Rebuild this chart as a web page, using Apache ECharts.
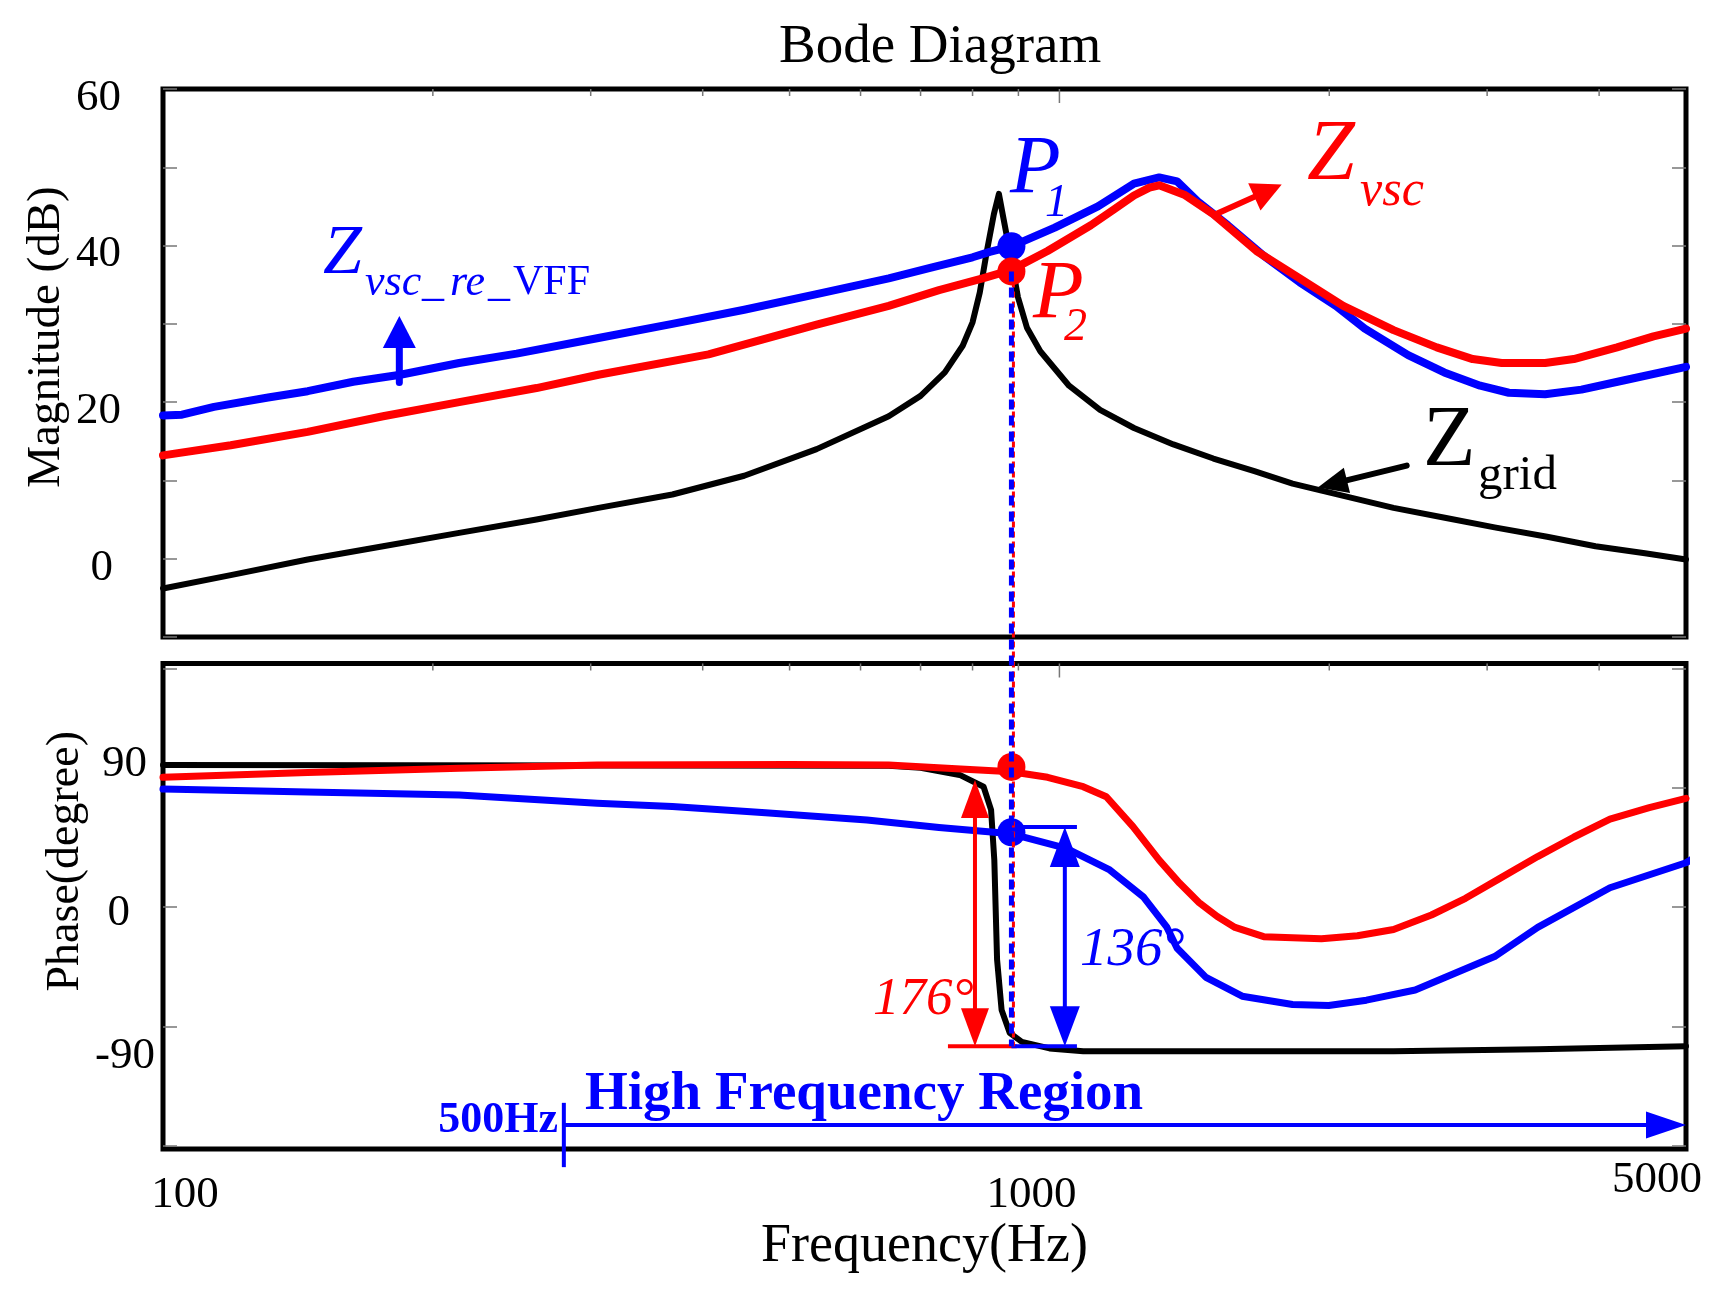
<!DOCTYPE html>
<html><head><meta charset="utf-8">
<script src="https://cdn.jsdelivr.net/npm/echarts@6/dist/echarts.min.js"></script>
<style>html,body{margin:0;padding:0;background:#fff}#c{width:1732px;height:1293px}</style>
</head><body><div id="c"></div>
<script>
// ---- tick values / labels ----
const xTickLabels = [100, 1000, 5000];
const xTickMarks = [200, 300, 400, 500, 600, 700, 800, 900, 1000, 2000, 3000, 4000];
const magTickLabels = [0, 20, 40, 60];
const phaseTickMarks = [-150, -75, 0, 75, 150];
const phaseTickLabels = [-90, 0, 90];

// ---- magnitude (dB) : [frequency Hz, value] ----
const zgridMag = [[100,-3.8],[119,-2.1],[145,-0.1],[176,1.6],[214,3.3],[261,5.0],[306,6.5],[370,8.2],[445,10.6],[536,14.0],[645,18.2],[700,20.8],[745,23.8],[780,27.2],[800,30.2],[815,34.0],[830,39.3],[845,44.0],[856,46.6],[866,43.5],[880,39.3],[899,33.4],[920,29.5],[952,26.5],[1025,22.1],[1110,19.0],[1211,16.7],[1340,14.6],[1485,12.8],[1650,11.2],[1820,9.6],[2080,8.0],[2359,6.5],[2700,5.2],[3058,4.0],[3500,2.8],[3963,1.6],[4500,0.7],[5000,-0.1]];
const zvscReMag = [[100,18.3],[105,18.4],[114,19.4],[131,20.6],[145,21.4],[163,22.6],[184,23.5],[214,25.0],[248,26.2],[306,28.2],[370,30.0],[445,31.8],[536,33.8],[645,35.8],[721,37.2],[800,38.5],[836,39.2],[884,39.9],[988,42.3],[1104,45.0],[1211,47.9],[1292,48.7],[1353,48.2],[1431,45.5],[1541,42.6],[1690,38.7],[1854,35.3],[2034,32.3],[2191,29.4],[2449,26.0],[2687,23.8],[2947,22.1],[3172,21.2],[3482,21.0],[3822,21.6],[4269,22.8],[5000,24.5]];
const zvscMag = [[100,13.2],[119,14.5],[145,16.2],[176,18.2],[214,20.0],[261,21.8],[306,23.5],[406,26.1],[536,29.9],[645,32.3],[734,34.3],[821,35.8],[884,36.9],[970,39.3],[1084,42.6],[1150,44.6],[1211,46.4],[1260,47.4],[1292,47.7],[1378,46.5],[1485,44.0],[1659,39.3],[1854,35.8],[2073,32.3],[2359,29.2],[2636,27.0],[2891,25.5],[3114,25.0],[3482,25.0],[3748,25.5],[4188,27.0],[4599,28.4],[5000,29.4]];

// ---- phase (degree) ----
const zgridPhase = [[100,89.3],[645,88.8],[700,87.5],[774,83],[823,75.6],[839,61],[846,29.5],[852,-33],[862,-64.7],[880,-79],[908,-84.7],[975,-88.8],[1063,-90.6],[2359,-90.6],[3416,-89.3],[5000,-87.4]];
const zvscRePhase = [[100,74.1],[145,72.3],[214,70.4],[305,65.2],[370,63.1],[470,59.2],[610,54.7],[734,50],[884,46],[1018,36.9],[1138,23.3],[1240,6.5],[1317,-12.4],[1353,-25.9],[1457,-44.2],[1599,-56],[1820,-61.2],[1997,-61.8],[2200,-58.5],[2494,-52.1],[3058,-31.1],[3416,-12.8],[4113,12.1],[5000,27.8],[5130,31.5]];
const zvscPhase = [[100,81.5],[145,84.6],[214,87.2],[305,89.3],[500,89.6],[645,89.3],[776,86.7],[884,85],[970,81.5],[1063,75.6],[1128,69.3],[1208,50.5],[1292,29.5],[1362,14.9],[1431,2.9],[1500,-6],[1570,-12.8],[1690,-18.6],[1960,-19.9],[2150,-18],[2359,-14.1],[2600,-5],[2838,5.5],[3100,18],[3416,31.7],[3750,44],[4113,55.2],[4550,62.5],[5000,68.3]];

// ---- annotation anchors (data coordinates) ----
const crossFreq = 884;
const p1Mag = 39.9, p2Mag = 36.7, p1Phase = 47, p2Phase = 88;
const dashBottomPhase = -87.4;
const regionStartFreq = 280;

const FONT = '"Liberation Serif", "Times New Roman", serif';
const RED = '#ff0000', BLUE = '#0000ff', BLACK = '#000000', TICK = '#777777';

const chart = echarts.init(document.getElementById('c'), null, {renderer: 'canvas'});

const gridCommon = {show: true, borderWidth: 5, borderColor: BLACK, backgroundColor: 'transparent', containLabel: false, outerBoundsMode: 'none'};
const xBase = {type: 'log', logBase: 10, min: 100, max: 5000, axisLine: {show: false}, axisTick: {show: false}, splitLine: {show: false}, minorTick: {show: false}, minorSplitLine: {show: false}};
const tickStyle = {show: true, inside: true, length: 14, lineStyle: {color: TICK, width: 1.5}};

const option = {
  animation: false,
  backgroundColor: '#fff',
  title: {text: 'Bode Diagram', left: 779, top: 20, padding: 0, textStyle: {fontFamily: FONT, fontSize: 55, fontWeight: 'normal', color: BLACK}},
  grid: [
    Object.assign({left: 163, top: 89, width: 1523, height: 548}, gridCommon),
    Object.assign({left: 163, top: 663.5, width: 1523, height: 485.5}, gridCommon)
  ],
  xAxis: [
    Object.assign({gridIndex: 0, axisLabel: {show: false}}, xBase),
    Object.assign({gridIndex: 1,
      name: 'Frequency(Hz)', nameLocation: 'middle', nameGap: 71, nameMoveOverlap: false,
      nameTextStyle: {fontFamily: FONT, fontSize: 54, color: BLACK},
      axisLabel: {show: true, interval: 0, showMinLabel: true, showMaxLabel: true, margin: 9,
        fontFamily: FONT, fontSize: 45, color: BLACK,
        formatter: function (v) {
          const r = Math.round(v);
          if (r === xTickLabels[0]) return '{a|' + r + '}';
          if (r === xTickLabels[1]) return '{b|' + r + '}';
          if (r === xTickLabels[2]) return '{c|' + r + '}';
          return '';
        },
        rich: {
          a: {fontFamily: FONT, fontSize: 45, lineHeight: 45, color: BLACK, padding: [30, 0, 0, 44]},
          b: {fontFamily: FONT, fontSize: 45, lineHeight: 45, color: BLACK, padding: [30, 56, 0, 0]},
          c: {fontFamily: FONT, fontSize: 45, lineHeight: 45, color: BLACK, padding: [0, 58, 0, 0]}
        }}}, xBase)
  ],
  yAxis: [
    {gridIndex: 0, type: 'value', position: 'left', min: -10, max: 60, interval: 10,
      name: 'Magnitude (dB)', nameLocation: 'middle', nameRotate: 90, nameGap: 93, nameMoveOverlap: false,
      nameTextStyle: {fontFamily: FONT, fontSize: 47, color: BLACK, padding: [0, 0, 0, 52]},
      axisLine: {show: false}, splitLine: {show: false}, axisTick: tickStyle,
      axisLabel: {show: true, margin: 42, fontFamily: FONT, fontSize: 45, color: BLACK,
        formatter: function (v) {
          if (magTickLabels.indexOf(v) < 0) return '';
          return v === 0 ? '{z|0}' : '{n|' + v + '}';
        },
        rich: {
          n: {fontFamily: FONT, fontSize: 45, lineHeight: 45, color: BLACK, padding: [18, 0, 0, 0]},
          z: {fontFamily: FONT, fontSize: 45, lineHeight: 45, color: BLACK, padding: [18, 8, 0, 0]}
        }}},
    {gridIndex: 0, type: 'value', position: 'right', min: -10, max: 60, interval: 10,
      axisLine: {show: false}, splitLine: {show: false}, axisTick: tickStyle, axisLabel: {show: false}},
    {gridIndex: 1, type: 'value', position: 'left', min: -152, max: 153,
      name: 'Phase(degree)', nameLocation: 'middle', nameRotate: 90, nameGap: 74, nameMoveOverlap: false,
      nameTextStyle: {fontFamily: FONT, fontSize: 46, color: BLACK, padding: [0, 0, 0, 90]},
      axisLine: {show: false}, splitLine: {show: false},
      axisTick: Object.assign({customValues: phaseTickMarks}, tickStyle),
      axisLabel: {show: true, customValues: phaseTickLabels, margin: 8, fontFamily: FONT, fontSize: 45, color: BLACK,
        formatter: function (v) {
          if (v === 90) return '{a|90}';
          if (v === 0) return '{b|0}';
          if (v === -90) return '{c|-90}';
          return '';
        },
        rich: {
          a: {fontFamily: FONT, fontSize: 45, lineHeight: 45, color: BLACK, padding: [0, 8, 0, 0]},
          b: {fontFamily: FONT, fontSize: 45, lineHeight: 45, color: BLACK, padding: [12, 25, 0, 0]},
          c: {fontFamily: FONT, fontSize: 45, lineHeight: 45, color: BLACK, padding: [12, 0, 0, 0]}
        }}},
    {gridIndex: 1, type: 'value', position: 'right', min: -152, max: 153,
      axisLine: {show: false}, splitLine: {show: false},
      axisTick: Object.assign({customValues: phaseTickMarks}, tickStyle), axisLabel: {show: false}}
  ],
  series: [
    {name: 'Zgrid', type: 'line', xAxisIndex: 0, yAxisIndex: 0, data: zgridMag, showSymbol: false, symbol: 'none', lineStyle: {color: BLACK, width: 6, join: 'round', cap: 'round'}, z: 2},
    {name: 'Zvsc_re_VFF', type: 'line', xAxisIndex: 0, yAxisIndex: 0, data: zvscReMag, showSymbol: false, symbol: 'none', lineStyle: {color: BLUE, width: 8, join: 'round', cap: 'round'}, z: 3},
    {name: 'Zvsc', type: 'line', xAxisIndex: 0, yAxisIndex: 0, data: zvscMag, showSymbol: false, symbol: 'none', lineStyle: {color: RED, width: 8, join: 'round', cap: 'round'}, z: 4},
    {name: 'Zgrid phase', type: 'line', xAxisIndex: 1, yAxisIndex: 2, data: zgridPhase, showSymbol: false, symbol: 'none', lineStyle: {color: BLACK, width: 6, join: 'round', cap: 'round'}, z: 2},
    {name: 'Zvsc_re_VFF phase', type: 'line', xAxisIndex: 1, yAxisIndex: 2, data: zvscRePhase, clip: false, showSymbol: false, symbol: 'none', lineStyle: {color: BLUE, width: 7, join: 'round', cap: 'round'}, z: 3},
    {name: 'Zvsc phase', type: 'line', xAxisIndex: 1, yAxisIndex: 2, data: zvscPhase, showSymbol: false, symbol: 'none', lineStyle: {color: RED, width: 7, join: 'round', cap: 'round'}, z: 4}
  ]
};
chart.setOption(option);

// ---------- annotations ----------
function px(g, pt) { return chart.convertToPixel({xAxisIndex: g, yAxisIndex: g * 2}, pt); }

function arrow(p0, p1, color, lw, hl, hw, both) {
  const dx = p1[0] - p0[0], dy = p1[1] - p0[1], L = Math.hypot(dx, dy);
  const ux = dx / L, uy = dy / L, nx = -uy, ny = ux;
  const s = both ? [p0[0] + ux * hl * 0.7, p0[1] + uy * hl * 0.7] : p0;
  const e = [p1[0] - ux * hl * 0.7, p1[1] - uy * hl * 0.7];
  const els = [{type: 'line', silent: true, z: 50, shape: {x1: s[0], y1: s[1], x2: e[0], y2: e[1]}, style: {stroke: color, lineWidth: lw, lineCap: both ? 'butt' : 'round'}}];
  function head(tip, vx, vy) {
    return {type: 'polygon', silent: true, z: 51, shape: {points: [
      [tip[0], tip[1]],
      [tip[0] - vx * hl + nx * hw / 2, tip[1] - vy * hl + ny * hw / 2],
      [tip[0] - vx * hl - nx * hw / 2, tip[1] - vy * hl - ny * hw / 2]]}, style: {fill: color}};
  }
  els.push(head(p1, ux, uy));
  if (both) els.push(head(p0, -ux, -uy));
  return els;
}
function seg(p0, p1, color, lw, dash, z) {
  return {type: 'line', silent: true, z: z || 50, shape: {x1: p0[0], y1: p0[1], x2: p1[0], y2: p1[1]}, style: {stroke: color, lineWidth: lw, lineDash: dash || null}};
}
function dot(p, color, r) {
  return {type: 'circle', silent: true, z: 60, shape: {cx: p[0], cy: p[1], r: r}, style: {fill: color}};
}
function txt(s, x, y, font, color, align) {
  return {type: 'text', silent: true, z: 70, style: {text: s, x: x, y: y, font: font, fill: color,
    textAlign: align || 'left', align: align || 'left', textVerticalAlign: 'middle', verticalAlign: 'middle'}};
}

const G = [];
// x tick marks on the top edge of both panels
[0, 1].forEach(function (g) {
  const topY = px(g, [100, g === 0 ? 60 : 153])[1];
  xTickMarks.forEach(function (f) {
    const x = px(g, [f, 0])[0];
    const len = (f === 1000) ? 14 : 7;
    G.push(seg([x, topY], [x, topY + len], TICK, 1.5, null, 5));
  });
});

// magnitude arrows
G.push.apply(G, arrow(px(0, [1500, 44.1]), px(0, [1770, 47.8]), RED, 6, 30, 30, false));
G.push.apply(G, arrow(px(0, [183.5, 22.5]), px(0, [183.5, 31]), BLUE, 7, 32, 33, false));
G.push.apply(G, arrow(px(0, [2440, 11.9]), px(0, [1942, 9.1]), BLACK, 6, 30, 26, false));

// phase measuring arrows
G.push(seg(px(1, [751, dashBottomPhase]), px(1, [896, dashBottomPhase]), RED, 4));
G.push.apply(G, arrow(px(1, [805, dashBottomPhase]), px(1, [805, 79.8]), RED, 4, 38, 28, true));
G.push(seg(px(1, [crossFreq, 50.3]), px(1, [1046, 50.3]), BLUE, 4));
G.push(seg(px(1, [crossFreq, dashBottomPhase]), px(1, [1046, dashBottomPhase]), BLUE, 4));
G.push.apply(G, arrow(px(1, [1014, dashBottomPhase]), px(1, [1014, 50.3]), BLUE, 4, 40, 30, true));

// high frequency region arrow
G.push(seg(px(1, [regionStartFreq, -123]), px(1, [regionStartFreq, -163.4]), BLUE, 4));
G.push.apply(G, arrow(px(1, [regionStartFreq, -137]), px(1, [5000, -137]), BLUE, 4, 40, 27, false));

// dots
G.push(dot(px(0, [crossFreq, p1Mag]), BLUE, 14));
G.push(dot(px(0, [crossFreq, p2Mag]), RED, 14));
G.push(dot(px(1, [crossFreq, p2Phase]), RED, 14));
G.push(dot(px(1, [crossFreq, p1Phase]), BLUE, 14));

// dashed connecting line
const dTop = px(0, [crossFreq, p2Mag]);
const dBot = px(1, [crossFreq, dashBottomPhase]);
G.push({type: 'line', silent: true, z: 80, shape: {x1: dTop[0] + 2, y1: dTop[1], x2: dBot[0] + 2, y2: dBot[1]}, style: {stroke: RED, lineWidth: 3, lineDash: [6, 4]}});
G.push({type: 'line', silent: true, z: 81, shape: {x1: dTop[0], y1: dTop[1], x2: dBot[0], y2: dBot[1]}, style: {stroke: BLUE, lineWidth: 5, lineDash: [10, 6]}});

// texts
const IT = function (s) { return 'italic ' + s + 'px ' + FONT; };
const NR = function (s) { return s + 'px ' + FONT; };
const BD = function (s) { return 'bold ' + s + 'px ' + FONT; };
G.push(txt('P', 1010, 170, IT(83), BLUE));
G.push(txt('1', 1045, 204, IT(46), BLUE));
G.push(txt('P', 1033, 295, IT(83), RED));
G.push(txt('2', 1064, 328, IT(46), RED));
G.push(txt('Z', 1307, 156, IT(86), RED));
G.push(txt('vsc', 1360, 192, IT(50), RED));
G.push(txt('Z', 323, 255, IT(70), BLUE));
G.push(txt('vsc', 365, 283, IT(44), BLUE));
G.push(txt('_', 422, 283, IT(44), BLUE));
G.push(txt('re', 450, 283, IT(44), BLUE));
G.push(txt('_', 488, 283, IT(44), BLUE));
G.push(txt('VFF', 513, 283, NR(42), BLUE));
G.push(txt('Z', 1423, 442, NR(86), BLACK));
G.push(txt('grid', 1478, 476, NR(49), BLACK));
G.push(txt('176°', 873, 1000, IT(53), RED));
G.push(txt('136°', 1080, 951, IT(55), BLUE));
G.push(txt('High Frequency Region', 585, 1095, BD(55), BLUE));
G.push(txt('500Hz', 558, 1121, BD(44), BLUE, 'right'));

chart.setOption({graphic: {elements: G}});
</script>
</body></html>
